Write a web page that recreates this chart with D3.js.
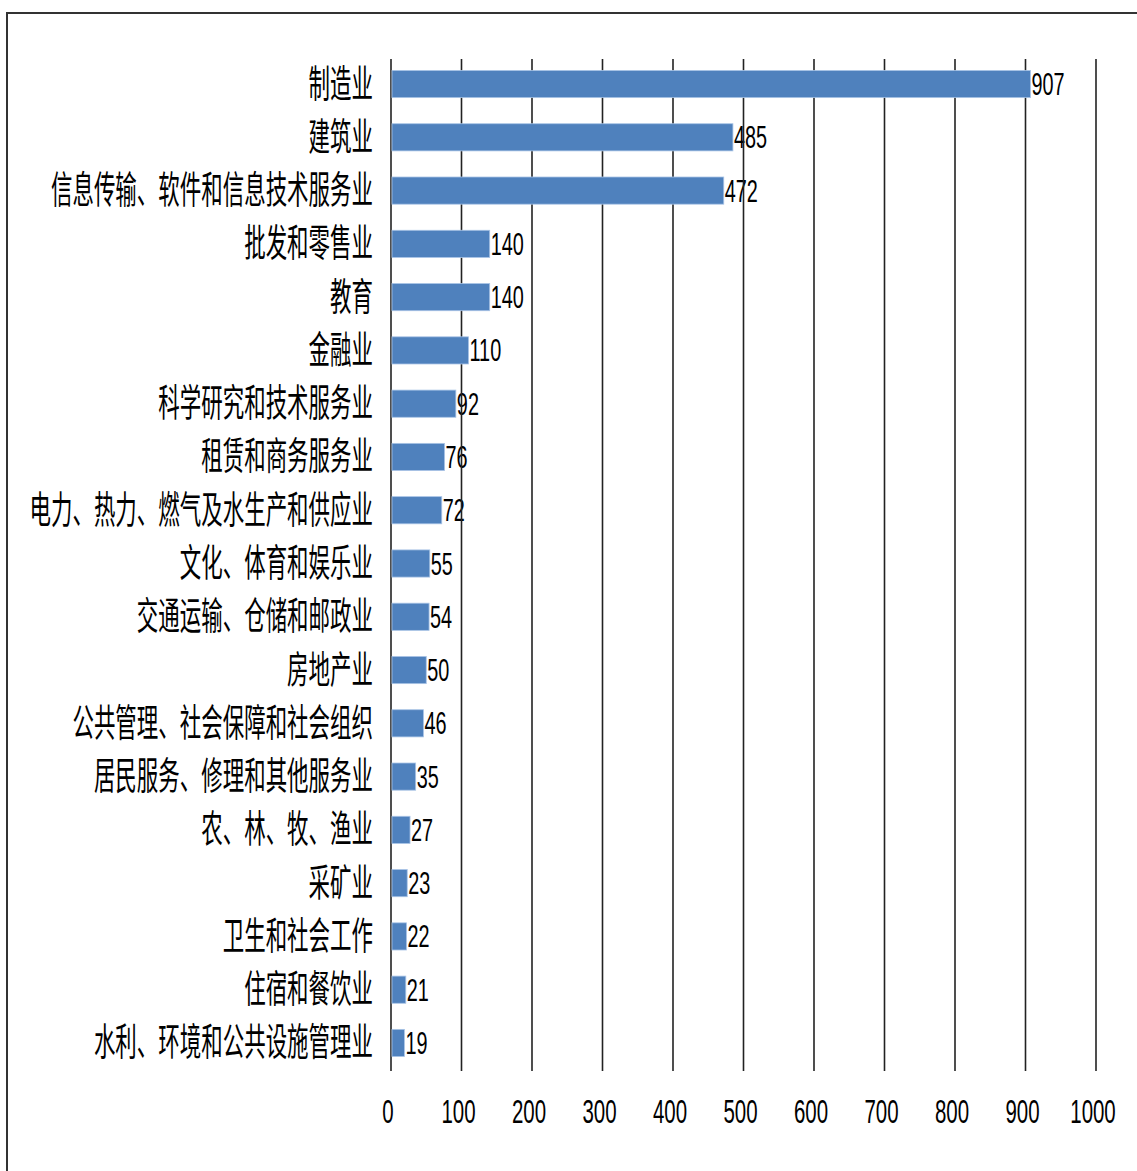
<!DOCTYPE html>
<html>
<head>
<meta charset="utf-8">
<script src="https://cdn.jsdelivr.net/npm/d3@7/dist/d3.min.js"></script>
<style>
  html, body { margin: 0; padding: 0; background: #fff; }
  svg { display: block; }
</style>
</head>
<body>
<svg id="chart" width="1137" height="1171"></svg>
<script>
const categories = [
  "制造业",
  "建筑业",
  "信息传输、软件和信息技术服务业",
  "批发和零售业",
  "教育",
  "金融业",
  "科学研究和技术服务业",
  "租赁和商务服务业",
  "电力、热力、燃气及水生产和供应业",
  "文化、体育和娱乐业",
  "交通运输、仓储和邮政业",
  "房地产业",
  "公共管理、社会保障和社会组织",
  "居民服务、修理和其他服务业",
  "农、林、牧、渔业",
  "采矿业",
  "卫生和社会工作",
  "住宿和餐饮业",
  "水利、环境和公共设施管理业"
];
const values = [907, 485, 472, 140, 140, 110, 92, 76, 72, 55, 54, 50, 46, 35, 27, 23, 22, 21, 19];
const tickValues = [0, 100, 200, 300, 400, 500, 600, 700, 800, 900, 1000];

const svg = d3.select("#chart");

// frame (top and left edges visible)
svg.append("line").attr("x1", 6).attr("x2", 1137).attr("y1", 13).attr("y2", 13)
  .attr("stroke", "#333").attr("stroke-width", 2);
svg.append("line").attr("x1", 7).attr("x2", 7).attr("y1", 12).attr("y2", 1171)
  .attr("stroke", "#333").attr("stroke-width", 2);

const x = d3.scaleLinear().domain([0, 1000]).range([391, 1096]);
const y = d3.scaleBand().domain(categories).range([57.4, 1069.6])
  .paddingInner(0.49).paddingOuter(0.245);

const gridTop = 59, gridBottom = 1071;

// category labels
const cjkFont = "'Noto Sans CJK SC', sans-serif";
const numFont = "'Liberation Sans', Arial, sans-serif";

svg.append("g").selectAll("text").data(categories).join("text")
  .attr("transform", d => `translate(373,${y(d) + y.bandwidth() / 2 + 12.5}) scale(0.565,1)`)
  .attr("text-anchor", "end")
  .attr("font-family", cjkFont)
  .attr("font-size", 38)
  .attr("fill", "#000")
  .text(d => d);

// value labels
svg.append("g").selectAll("text").data(categories).join("text")
  .attr("transform", (d, i) => `translate(${x(values[i]) + 1},${y(d) + y.bandwidth() / 2 + 11}) scale(0.62,1)`)
  .attr("font-family", numFont)
  .attr("font-size", 32)
  .attr("fill", "#000")
  .text((d, i) => values[i]);

// gridlines
svg.append("g").selectAll("line").data(tickValues).join("line")
  .attr("x1", d => x(d)).attr("x2", d => x(d))
  .attr("y1", gridTop).attr("y2", gridBottom)
  .attr("stroke", "#222").attr("stroke-width", 1.6);

// bars
svg.append("g").selectAll("rect").data(categories).join("rect")
  .attr("x", x(0) + 1)
  .attr("y", d => y(d))
  .attr("width", (d, i) => x(values[i]) - x(0) - 1)
  .attr("height", y.bandwidth())
  .attr("fill", "#4F81BD")
  .attr("stroke", "#a9c4e6")
  .attr("stroke-width", 0.8);

// tick labels
svg.append("g").selectAll("text").data(tickValues).join("text")
  .attr("transform", d => `translate(${x(d) - 3},1123) scale(0.62,1)`)
  .attr("text-anchor", "middle")
  .attr("font-family", numFont)
  .attr("font-size", 33)
  .attr("fill", "#000")
  .text(d => d);
</script>
</body>
</html>
